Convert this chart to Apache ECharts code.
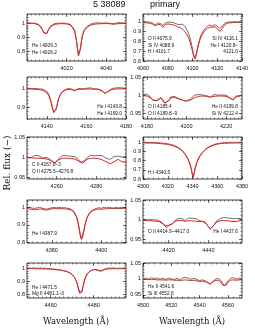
<!DOCTYPE html>
<html><head><meta charset="utf-8">
<script src="https://cdn.jsdelivr.net/npm/echarts@6/dist/echarts.min.js"></script>
<style>html,body{margin:0;padding:0;background:#fff}#c{width:255px;height:330px}</style>
</head><body><div id="c"></div>
<script>
// [wavelength, observed flux, model flux]
const p1 = [[4000,1.004,1.000],[4001,1.002,0.999],[4002,0.998,0.999],[4003,1.003,0.998],[4004,1.000,0.996],[4005,0.996,0.993],[4006,0.990,0.986],[4007,0.975,0.972],[4008,0.950,0.948],[4008.5,0.933,0.930],[4009,0.921,0.918],[4009.5,0.920,0.917],[4010,0.927,0.925],[4010.5,0.944,0.940],[4011,0.960,0.955],[4012,0.980,0.975],[4013,0.992,0.986],[4014,0.997,0.991],[4015,1.002,0.994],[4016,0.999,0.995],[4017,1.004,0.996],[4018,1.000,0.996],[4019,1.003,0.995],[4020,0.998,0.994],[4021,0.995,0.991],[4022,0.990,0.985],[4023,0.978,0.972],[4024,0.952,0.945],[4025,0.882,0.870],[4025.5,0.822,0.810],[4026,0.778,0.765],[4026.5,0.782,0.772],[4027,0.822,0.815],[4027.5,0.874,0.870],[4028,0.914,0.910],[4029,0.952,0.948],[4030,0.972,0.967],[4031,0.984,0.978],[4032,0.992,0.985],[4033,0.995,0.989],[4034,1.000,0.992],[4035,0.998,0.994],[4036,1.003,0.995],[4037,1.001,0.996],[4038,0.999,0.996],[4039,1.004,0.996],[4040,1.002,0.997],[4041,1.000,0.997],[4042,0.997,0.995],[4043,0.994,0.993],[4044,0.996,0.992],[4045,1.000,0.994],[4046,1.003,0.996],[4047,0.999,0.997],[4048,1.002,0.997],[4049,1.005,0.998],[4050,1.001,0.998]];
const p2 = [[4060,1.000,0.992],[4062,1.003,0.990],[4064,0.998,0.988],[4066,0.995,0.985],[4068,0.985,0.975],[4069,0.975,0.965],[4070,0.968,0.960],[4071,0.975,0.963],[4072,0.988,0.975],[4073,0.992,0.980],[4074,0.985,0.970],[4075,0.972,0.955],[4076,0.965,0.945],[4077,0.975,0.955],[4078,0.988,0.972],[4080,0.995,0.978],[4082,0.998,0.975],[4084,0.993,0.970],[4086,0.985,0.962],[4088,0.975,0.950],[4089,0.965,0.940],[4090,0.970,0.940],[4091,0.975,0.935],[4092,0.978,0.925],[4093,0.965,0.915],[4094,0.950,0.900],[4095,0.930,0.882],[4096,0.905,0.860],[4097,0.875,0.832],[4098,0.835,0.795],[4099,0.785,0.750],[4100,0.725,0.700],[4100.5,0.695,0.672],[4101,0.660,0.645],[4101.5,0.638,0.625],[4102,0.632,0.620],[4102.5,0.645,0.632],[4103,0.670,0.655],[4104,0.730,0.715],[4105,0.790,0.770],[4106,0.835,0.815],[4107,0.870,0.850],[4108,0.895,0.875],[4109,0.915,0.895],[4110,0.930,0.910],[4111,0.945,0.922],[4112,0.955,0.932],[4113,0.962,0.940],[4114,0.968,0.945],[4115,0.965,0.948],[4116,0.958,0.945],[4117,0.965,0.950],[4118,0.970,0.950],[4119,0.968,0.945],[4120,0.958,0.932],[4121,0.945,0.915],[4122,0.932,0.902],[4123,0.935,0.905],[4124,0.955,0.930],[4125,0.972,0.955],[4126,0.985,0.972],[4128,0.995,0.985],[4130,1.000,0.990],[4132,0.998,0.992],[4134,1.003,0.993],[4136,0.998,0.994],[4138,1.002,0.995],[4140,1.000,0.995]];
const p3 = [[4130,1.002,0.998],[4131,1.005,0.998],[4132,0.999,0.997],[4133,1.003,0.997],[4134,1.000,0.996],[4135,1.004,0.995],[4136,0.998,0.994],[4137,1.001,0.993],[4138,0.996,0.990],[4139,0.992,0.985],[4140,0.985,0.977],[4141,0.970,0.962],[4142,0.940,0.935],[4142.5,0.915,0.912],[4143,0.892,0.890],[4143.5,0.875,0.874],[4144,0.870,0.872],[4144.5,0.880,0.885],[4145,0.900,0.905],[4145.5,0.925,0.928],[4146,0.948,0.948],[4147,0.972,0.970],[4148,0.985,0.983],[4149,0.993,0.990],[4150,0.998,0.994],[4151,0.994,0.995],[4152,0.999,0.995],[4153,0.992,0.993],[4154,0.988,0.990],[4155,0.993,0.992],[4156,1.000,0.995],[4157,1.003,0.996],[4158,0.998,0.996],[4159,1.004,0.997],[4160,1.001,0.997],[4161,0.999,0.997],[4162,1.003,0.997],[4163,1.000,0.997],[4164,0.998,0.996],[4165,1.001,0.996],[4166,0.997,0.995],[4167,0.993,0.991],[4168,0.988,0.986],[4169,0.978,0.979],[4169.5,0.973,0.976],[4170,0.975,0.977],[4171,0.985,0.984],[4172,0.994,0.991],[4173,1.000,0.995],[4174,0.999,0.997],[4175,1.003,0.997],[4176,1.000,0.998],[4177,1.004,0.998],[4178,0.999,0.998],[4179,1.002,0.998],[4180,1.000,0.998]];
const p4 = [[4178,1.002,0.999],[4179,1.000,0.999],[4180,1.003,0.998],[4181,0.999,0.997],[4182,0.994,0.992],[4183,0.987,0.986],[4183.5,0.985,0.984],[4184,0.989,0.988],[4185,0.986,0.985],[4185.5,0.983,0.983],[4186,0.988,0.987],[4187,0.994,0.992],[4188,0.988,0.987],[4189,0.979,0.978],[4190,0.976,0.975],[4191,0.986,0.985],[4192,0.995,0.993],[4193,1.000,0.995],[4194,0.997,0.994],[4195,0.994,0.992],[4196,0.991,0.990],[4197,0.989,0.988],[4198,0.987,0.986],[4199,0.985,0.985],[4200,0.984,0.984],[4201,0.986,0.985],[4202,0.990,0.987],[4203,0.995,0.990],[4204,1.000,0.993],[4205,1.004,0.996],[4206,1.002,0.997],[4207,1.005,0.998],[4208,1.001,0.998],[4209,1.003,0.998],[4210,0.999,0.997],[4211,0.997,0.996],[4212,0.995,0.995],[4213,0.998,0.996],[4214,1.002,0.997],[4215,1.004,0.998],[4216,1.000,0.998],[4217,1.003,0.998],[4218,1.001,0.998],[4219,0.998,0.998],[4220,1.000,0.997],[4221,0.996,0.995],[4222,0.992,0.992],[4223,0.988,0.989],[4223.5,0.987,0.988],[4224,0.991,0.991],[4225,0.998,0.995],[4226,1.002,0.997],[4227,0.999,0.998],[4228,1.001,0.999]];
const p5 = [[4245,1.000,0.998],[4246,1.003,0.998],[4247,0.998,0.998],[4248,1.002,0.998],[4249,1.004,0.997],[4250,0.999,0.997],[4251,1.003,0.997],[4252,1.001,0.997],[4253,0.998,0.996],[4254,1.002,0.996],[4255,0.999,0.995],[4256,0.997,0.994],[4257,0.993,0.991],[4258,0.988,0.987],[4259,0.985,0.984],[4260,0.989,0.987],[4261,0.996,0.993],[4262,1.001,0.996],[4263,1.004,0.997],[4264,1.000,0.997],[4265,1.003,0.997],[4266,0.999,0.996],[4267,1.002,0.996],[4268,0.998,0.995],[4269,1.001,0.995],[4270,0.998,0.993],[4271,0.994,0.990],[4272,0.988,0.986],[4273,0.985,0.984],[4274,0.990,0.988],[4275,0.997,0.993],[4276,1.002,0.996],[4277,1.004,0.997],[4278,1.000,0.997],[4279,1.003,0.997],[4280,1.000,0.996],[4281,1.004,0.996],[4282,1.001,0.995],[4283,1.003,0.993],[4284,0.999,0.991],[4285,0.997,0.988],[4286,0.995,0.985],[4287,0.994,0.983],[4288,0.996,0.984],[4289,1.001,0.988],[4290,1.004,0.993],[4291,1.002,0.994],[4292,1.003,0.992],[4293,1.000,0.988],[4294,0.998,0.985],[4295,1.001,0.987]];
const p6 = [[4300,1.000,0.995],[4302,1.003,0.995],[4304,0.998,0.994],[4306,1.002,0.994],[4308,0.999,0.993],[4310,1.001,0.992],[4312,0.997,0.990],[4314,0.995,0.988],[4316,0.992,0.985],[4318,0.990,0.982],[4320,0.986,0.978],[4322,0.980,0.972],[4324,0.973,0.965],[4326,0.963,0.955],[4328,0.950,0.942],[4330,0.932,0.925],[4332,0.908,0.902],[4334,0.875,0.870],[4336,0.830,0.825],[4337,0.800,0.795],[4338,0.765,0.760],[4339,0.715,0.710],[4339.5,0.680,0.678],[4340,0.640,0.640],[4340.5,0.618,0.615],[4341,0.632,0.630],[4341.5,0.670,0.668],[4342,0.710,0.708],[4343,0.760,0.758],[4344,0.800,0.795],[4345,0.830,0.825],[4346,0.855,0.850],[4348,0.892,0.888],[4350,0.920,0.915],[4352,0.942,0.936],[4354,0.958,0.952],[4356,0.970,0.965],[4358,0.980,0.975],[4360,0.986,0.982],[4362,0.992,0.986],[4364,0.995,0.989],[4366,1.000,0.991],[4368,0.998,0.992],[4370,1.002,0.993],[4372,1.000,0.994],[4374,1.003,0.994],[4376,0.999,0.995],[4378,1.002,0.995],[4380,1.000,0.995]];
const p7 = [[4370,1.000,0.995],[4371,1.003,0.993],[4372,0.998,0.990],[4373,0.996,0.988],[4374,0.999,0.990],[4375,1.002,0.993],[4376,0.998,0.992],[4377,0.994,0.988],[4378,0.992,0.986],[4379,0.996,0.990],[4380,1.000,0.994],[4381,1.002,0.995],[4382,0.999,0.994],[4383,1.002,0.995],[4384,0.999,0.994],[4385,1.001,0.994],[4386,0.998,0.993],[4387,0.995,0.990],[4388,0.990,0.985],[4389,0.978,0.972],[4390,0.950,0.945],[4390.5,0.925,0.920],[4391,0.890,0.882],[4391.5,0.850,0.838],[4392,0.825,0.815],[4392.5,0.835,0.828],[4393,0.870,0.865],[4393.5,0.905,0.902],[4394,0.935,0.932],[4395,0.965,0.962],[4396,0.982,0.978],[4397,0.990,0.986],[4398,0.996,0.990],[4399,1.000,0.992],[4400,0.997,0.991],[4401,1.002,0.993],[4402,0.999,0.994],[4403,1.003,0.995],[4404,1.000,0.995],[4405,0.998,0.996],[4406,1.002,0.996],[4407,0.999,0.995],[4408,1.003,0.996],[4409,1.000,0.996],[4410,1.001,0.997]];
const p8 = [[4407,1.000,0.998],[4408,1.002,0.998],[4409,0.999,0.997],[4410,1.003,0.997],[4411,1.000,0.997],[4412,1.002,0.997],[4413,0.999,0.996],[4414,1.001,0.996],[4415,0.998,0.995],[4416,0.996,0.993],[4417,0.991,0.989],[4418,0.985,0.984],[4419,0.980,0.979],[4420,0.985,0.985],[4421,0.982,0.982],[4422,0.990,0.989],[4423,0.997,0.995],[4424,1.001,0.997],[4425,1.003,0.998],[4426,0.998,0.997],[4427,1.002,0.997],[4428,0.996,0.996],[4429,1.000,0.996],[4430,1.004,0.997],[4431,1.001,0.997],[4432,1.003,0.997],[4433,0.999,0.996],[4434,1.002,0.996],[4435,0.998,0.995],[4436,0.996,0.994],[4437,0.999,0.995],[4438,0.995,0.993],[4439,0.990,0.989],[4440,0.982,0.982],[4441,0.975,0.976],[4441.5,0.973,0.974],[4442,0.977,0.978],[4443,0.987,0.987],[4444,0.995,0.993],[4445,1.000,0.996],[4446,1.003,0.997],[4447,1.001,0.997],[4448,1.005,0.997],[4449,1.002,0.997],[4450,1.004,0.997],[4451,1.000,0.996],[4452,1.003,0.995],[4453,0.998,0.994],[4454,1.002,0.995],[4455,1.000,0.996],[4456,1.003,0.997],[4457,0.999,0.997]];
const p9 = [[4449,1.000,0.996],[4450,1.002,0.996],[4451,0.999,0.996],[4452,1.003,0.996],[4453,1.000,0.995],[4454,0.998,0.995],[4455,1.002,0.995],[4456,0.999,0.994],[4457,1.001,0.994],[4458,0.998,0.994],[4459,0.997,0.993],[4460,0.995,0.992],[4461,0.994,0.991],[4462,0.992,0.989],[4463,0.990,0.987],[4464,0.988,0.985],[4465,0.985,0.982],[4466,0.982,0.979],[4467,0.978,0.975],[4468,0.972,0.970],[4469,0.963,0.962],[4470,0.950,0.950],[4471,0.930,0.932],[4472,0.895,0.900],[4472.5,0.865,0.872],[4473,0.830,0.840],[4473.5,0.805,0.815],[4474,0.800,0.812],[4474.5,0.815,0.825],[4475,0.850,0.858],[4475.5,0.890,0.895],[4476,0.920,0.925],[4477,0.955,0.958],[4478,0.973,0.974],[4479,0.984,0.983],[4480,0.990,0.988],[4481,0.990,0.987],[4482,0.986,0.983],[4483,0.981,0.977],[4484,0.984,0.980],[4485,0.992,0.988],[4486,0.998,0.993],[4487,1.001,0.995],[4488,0.999,0.995],[4489,1.002,0.996],[4490,1.000,0.996],[4491,0.997,0.996],[4492,1.001,0.996],[4493,0.999,0.996],[4494,1.002,0.996],[4495,1.000,0.996]];
const p10 = [[4500,1.000,0.998],[4502,1.003,0.998],[4504,0.999,0.998],[4506,1.004,0.998],[4508,1.001,0.998],[4510,1.003,0.997],[4512,0.999,0.997],[4514,1.002,0.997],[4516,0.998,0.996],[4518,1.002,0.997],[4520,1.000,0.997],[4522,0.998,0.996],[4524,1.002,0.996],[4526,0.997,0.995],[4528,1.003,0.996],[4530,1.005,0.997],[4532,1.002,0.996],[4534,0.999,0.995],[4536,1.002,0.996],[4538,0.998,0.994],[4540,0.995,0.992],[4542,0.997,0.993],[4544,0.994,0.991],[4546,0.988,0.987],[4547.5,0.984,0.984],[4549,0.991,0.989],[4551,0.998,0.995],[4553,1.002,0.996],[4555,0.996,0.990],[4556.5,0.985,0.980],[4557.5,0.978,0.975],[4558.5,0.983,0.979],[4560,0.993,0.989],[4562,1.002,0.996],[4564,1.004,0.997],[4566,0.999,0.996],[4568,1.003,0.997],[4570,1.000,0.997]];

// axis ranges and tick labels
const xRanges = [[4000,4050],[4060,4140],[4130,4180],[4178,4228],[4245,4295],[4300,4380],[4370,4410],[4407,4457],[4449,4495],[4500,4570]];
const yRanges = [[0.73,1.065],[0.6,1.08],[0.84,1.06],[0.935,1.05],[0.945,1.05],[0.6,1.06],[0.795,1.045],[0.94,1.05],[0.77,1.04],[0.94,1.05]];
const xTicks = [[4020,4040],[4060,4080,4100,4120,4140],[4140,4160,4180],[4180,4200,4220],[4260,4280],[4300,4320,4340,4360,4380],[4380,4400],[4420,4440],[4460,4480],[4500,4520,4540,4560]];
const yTicks = [[0.8,0.9,1],[0.6,0.7,0.8,0.9,1],[0.9,1],[0.95,1,1.05],[0.95,1,1.05],[0.6,0.7,0.8,0.9,1],[0.8,0.9,1],[0.95,1,1.05],[0.8,0.9,1],[0.95,1,1.05]];
const xMinorStep = [2,4,2,2,2,4,2,2,2,4];
const yMinorStep = [0.02,0.02,0.02,0.01,0.01,0.02,0.02,0.01,0.02,0.01];
const spectra = [p1,p2,p3,p4,p5,p6,p7,p8,p9,p10];
const lineLabels = [
  [["He I 4009.3","He I 4026.2"],[]],
  [["O II 4075.9","Si IV 4088.9","H I 4101.7"],["Si IV 4116.1","He I 4120.8\u2013","4121.0"]],
  [[],["He I 4143.8","He I 4169.0"]],
  [["O II 4185.4","O II 4189.8\u20139"],["He II 4199.8","Si IV 4212.4"]],
  [["C II 4267.0\u20133","O II 4275.5\u20134276.8"],[]],
  [["H I 4340.5"],[]],
  [["He I 4387.9"],[]],
  [["O II 4414.9\u20134417.0"],["He I 4437.6"]],
  [["He I 4471.5","Mg II 4481.1\u20133"],[]],
  [["He II 4541.6","Si III 4552.6"],[]]
];

// layout
const colLeft = [27, 143], colW = 99;
const rowTop = [14, 77, 137, 200, 263], rowH = [47, 42, 42, 43, 35];
const labelTop = [46, 39, 107, 107, 165, 173, 234, 232, 287.5, 287];
const RED = '#ee1c1c';
const tickFont = 'Liberation Sans';

function minorVals(a, b, s) {
  const out = [];
  const k0 = Math.ceil(a / s - 1e-9), k1 = Math.floor(b / s + 1e-9);
  for (let k = k0; k <= k1; k++) out.push(+(k * s).toFixed(5));
  return out;
}

const grids = [], xAxes = [], yAxes = [], series = [], graphics = [];
spectra.forEach((d, i) => {
  const r = Math.floor(i / 2), c = i % 2;
  grids.push({left: colLeft[c], top: rowTop[r], width: colW, height: rowH[r], show: true, borderColor: '#111', borderWidth: 0.8, backgroundColor: 'transparent'});
  const [x0, x1] = xRanges[i], [y0, y1] = yRanges[i];
  const xm = minorVals(x0, x1, xMinorStep[i]), ym = minorVals(y0, y1, yMinorStep[i]);
  const base = {gridIndex: i, type: 'value', axisLine: {show: false, onZero: false}, splitLine: {show: false}};
  [['bottom', true], ['top', false]].forEach(([pos, lab]) => {
    xAxes.push(Object.assign({}, base, {min: x0, max: x1, position: pos,
      axisTick: {show: true, inside: true, length: 3, customValues: xTicks[i], lineStyle: {color: '#111', width: 0.6}},
      axisLabel: {show: lab, customValues: xTicks[i], formatter: v => String(v), fontSize: 5.5, fontFamily: tickFont, color: '#111', margin: 4}}));
    xAxes.push(Object.assign({}, base, {min: x0, max: x1, position: pos,
      axisTick: {show: true, inside: true, length: 1.5, customValues: xm, lineStyle: {color: '#111', width: 0.5}},
      axisLabel: {show: false}}));
  });
  [['left', true], ['right', false]].forEach(([pos, lab]) => {
    yAxes.push(Object.assign({}, base, {min: y0, max: y1, position: pos,
      axisTick: {show: true, inside: true, length: 3, customValues: yTicks[i], lineStyle: {color: '#111', width: 0.6}},
      axisLabel: {show: lab, customValues: yTicks[i], formatter: v => String(v), fontSize: 5.5, fontFamily: tickFont, color: '#111', margin: 2}}));
    yAxes.push(Object.assign({}, base, {min: y0, max: y1, position: pos,
      axisTick: {show: true, inside: true, length: 1.5, customValues: ym, lineStyle: {color: '#111', width: 0.5}},
      axisLabel: {show: false}}));
  });
  series.push({type: 'line', xAxisIndex: 4 * i, yAxisIndex: 4 * i, data: d.map(p => [p[0], p[1]]), showSymbol: false, silent: true,
    lineStyle: {color: '#111', width: 0.6}, z: 2});
  series.push({type: 'line', xAxisIndex: 4 * i, yAxisIndex: 4 * i, data: d.map(p => [p[0], p[2]]), showSymbol: false, silent: true,
    lineStyle: {color: RED, width: 1}, z: 3});
  const [leftL, rightL] = lineLabels[i];
  const baseY = labelTop[i];
  leftL.forEach((t, k) => graphics.push({type: 'text', x: colLeft[c] + 5, y: baseY + k * 6.5,
    style: {text: t, font: '4.8px "Liberation Sans"', fill: '#111', textVerticalAlign: 'middle'}}));
  rightL.forEach((t, k) => graphics.push({type: 'text', x: colLeft[c] + colW - 4, y: baseY + k * 6.5,
    style: {text: t, font: '4.8px "Liberation Sans"', fill: '#111', textAlign: 'right', textVerticalAlign: 'middle'}}));
});

graphics.push({type: 'text', x: 93, y: 5, style: {text: '5 38089', font: '9px "Liberation Sans"', fill: '#111', textVerticalAlign: 'middle'}});
graphics.push({type: 'text', x: 150, y: 5, style: {text: 'primary', font: '9px "Liberation Sans"', fill: '#111', textVerticalAlign: 'middle'}});
graphics.push({type: 'text', x: 8, y: 163, rotation: Math.PI / 2, style: {text: 'Rel. flux (\u2212)', font: '9px "DejaVu Serif"', fill: '#111', textAlign: 'center', textVerticalAlign: 'middle'}});
graphics.push({type: 'text', x: 76, y: 322, style: {text: 'Wavelength (\u00c5)', font: '8.5px "DejaVu Serif"', fill: '#111', textAlign: 'center', textVerticalAlign: 'middle'}});
graphics.push({type: 'text', x: 192, y: 322, style: {text: 'Wavelength (\u00c5)', font: '8.5px "DejaVu Serif"', fill: '#111', textAlign: 'center', textVerticalAlign: 'middle'}});

const chart = echarts.init(document.getElementById('c'), null, {renderer: 'canvas'});
chart.setOption({animation: false, grid: grids, xAxis: xAxes, yAxis: yAxes, series: series, graphic: graphics});
</script></body></html>
